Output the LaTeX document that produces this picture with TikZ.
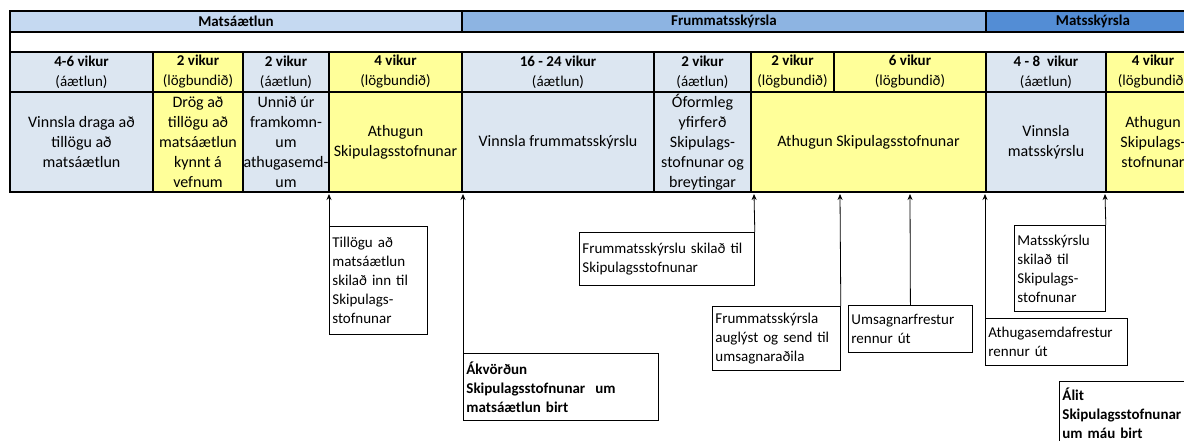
\documentclass[tikz,border=0pt]{standalone}
\usepackage{fontspec}
\setmainfont{Carlito}
\usetikzlibrary{arrows.meta}

\definecolor{headA}{HTML}{C5D9F1}
\definecolor{headB}{HTML}{8DB4E2}
\definecolor{headC}{HTML}{538DD5}
\definecolor{planned}{HTML}{DCE6F1}
\definecolor{statutory}{HTML}{FFFF99}

\begin{document}
\begin{tikzpicture}[x=1pt,y=-1pt,
    grid/.style={draw=black,line width=1.8pt},
    head/.style={font=\fontsize{15}{20}\selectfont\bfseries,inner sep=0pt},
    cell/.style={font=\fontsize{15}{20}\selectfont,align=center,inner sep=0pt},
    task/.style={cell,font=\fontsize{16}{20}\selectfont},
    note/.style 2 args={draw,line width=0.8pt,fill=white,anchor=north west,
                align=left,inner xsep=3pt,inner ysep=0pt,text width=#1,
                minimum height=#2,font=\fontsize{15}{19}\selectfont},
    pointer/.style={-{Stealth[length=6pt,width=5pt]},line width=0.8pt}]

  \useasboundingbox (0,0) rectangle (1184,441);
  \clip (0,0) rectangle (1184,441);

  % phases
  \foreach \xa/\xb/\col/\name [count=\i] in {
      10/462/headA/Matsáætlun,
      462/986/headB/Frummatsskýrsla,
      986/1200/headC/Matsskýrsla}
  {
    \draw[grid,fill=\col] (\xa,11) rectangle (\xb,32);
    \node[head] (p\i) at ({(\xa+\xb)/2},21.5) {\name};
  }
  \draw[grid,fill=white] (10,32) rectangle (1200,52);

  % durations
  \foreach \xa/\xb/\col/\len/\kind [count=\i] in {
      10/153/planned/4-6 vikur/áætlun,
      153/243/statutory/2 vikur/lögbundið,
      243/329/planned/2 vikur/áætlun,
      329/462/statutory/4 vikur/lögbundið,
      462/654/planned/16 - 24 vikur/áætlun,
      654/751/planned/2 vikur/áætlun,
      751/834/statutory/2 vikur/lögbundið,
      834/986/statutory/6 vikur/lögbundið,
      986/1106/planned/4 - 8~ vikur/áætlun,
      1106/1200/statutory/4 vikur/lögbundið}
  {
    \draw[grid,fill=\col] (\xa,52) rectangle (\xb,92);
    \node[cell] (d\i) at ({(\xa+\xb)/2},72) {\textbf{\len}\\(\kind)};
  }

  % tasks
  \foreach \xa/\xb/\col/\txt [count=\i] in {
      10/153/planned/{Vinnsla draga að\\tillögu að\\matsáætlun},
      153/243/statutory/{Drög að\\tillögu að\\matsáætlun\\kynnt á\\vefnum},
      243/329/planned/{Unnið úr\\framkomn-\\um\\athugasemd-\\um},
      329/462/statutory/{Athugun\\Skipulagsstofnunar},
      462/654/planned/{Vinnsla frummatsskýrslu},
      654/751/planned/{Óformleg\\yfirferð\\Skipulags-\\stofnunar og\\breytingar},
      751/986/statutory/{Athugun Skipulagsstofnunar},
      986/1106/planned/{Vinnsla\\matsskýrslu},
      1106/1200/statutory/{Athugun\\Skipulags-\\stofnunar}}
  {
    \draw[grid,fill=\col] (\xa,92) rectangle (\xb,192);
    \node[task] (t\i) at ({(\xa+\xb)/2},142) {\txt};
  }

  % milestones
  \foreach \x [count=\i] in {329,463,754,840,910,985,1105}
    \coordinate (m\i) at (\x,194);

  \node[note={92pt}{108pt}] (tillaga) at (329,226)
    {Tillögu að\\matsáætlun\\skilað inn til\\Skipulags-\\stofnunar};
  \node[note={189pt}{67pt},font=\fontsize{15}{19}\selectfont\bfseries] (akvordun) at (463,353)
    {Ákvörðun\\Skipulagsstofnunar~ um\\matsáætlun birt};
  \node[note={169pt}{53pt}] (skilad) at (579,232)
    {Frummatsskýrslu skilað til\\Skipulagsstofnunar};
  \node[note={122pt}{64pt}] (auglyst) at (712,306)
    {Frummatsskýrsla\\auglýst og send til\\umsagnaraðila};
  \node[note={118pt}{47pt}] (umsogn) at (848,305)
    {Umsagnarfrestur\\rennur út};
  \node[note={85pt}{86pt}] (matsskyrsla) at (1014,225)
    {Matsskýrslu\\skilað til\\Skipulags-\\stofnunar};
  \node[note={136pt}{47pt}] (athugasemd) at (985,318)
    {Athugasemdafrestur\\rennur út};
  \node[note={136pt}{64pt},font=\fontsize{15}{19}\selectfont\bfseries] (alit) at (1059,381)
    {Álit\\Skipulagsstofnunar\\um máu birt};

  \draw[pointer] (tillaga.north west) -- (m1);
  \draw[pointer] (akvordun.north west) -- (m2);
  \draw[pointer] (skilad.north east) -- (m3);
  \draw[pointer] (auglyst.north east) -- (m4);
  \draw[pointer] (umsogn.north) -- (m5);
  \draw[pointer] (athugasemd.north west) -- (m6);
  \draw[pointer] (matsskyrsla.north east) -- (m7);
\end{tikzpicture}
\end{document}
